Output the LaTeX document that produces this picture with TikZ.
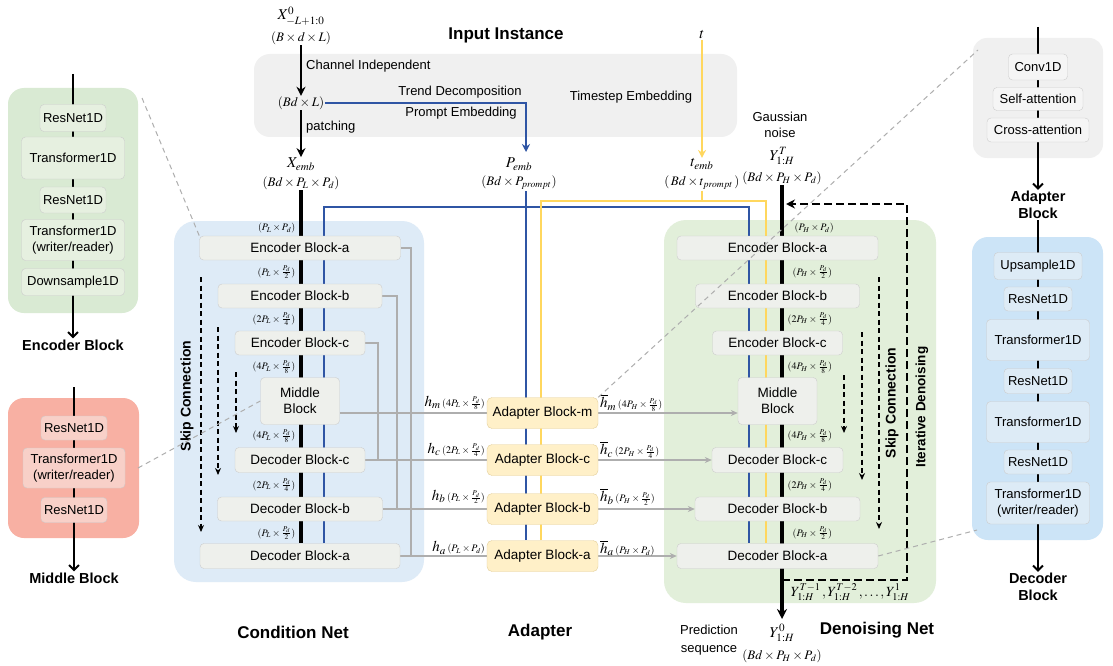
\documentclass[tikz,border=0pt]{standalone}
\usepackage{mathptmx}
\usepackage{fontspec}
\setmainfont{Liberation Sans}
\usetikzlibrary{arrows.meta}
\pgfdeclarelayer{back}
\pgfdeclarelayer{mid}
\pgfsetlayers{back,mid,main}
\definecolor{topgray}{HTML}{F0F0F0}
\definecolor{condbg}{HTML}{DEEBF7}
\definecolor{denbg}{HTML}{E2EFDA}
\definecolor{encbg}{HTML}{D9EAD3}
\definecolor{midbg}{HTML}{F8B0A3}
\definecolor{decbg}{HTML}{CCE4F7}
\definecolor{adpbg}{HTML}{F0F0F0}
\definecolor{blkfill}{HTML}{EEF0EC}
\definecolor{blkdraw}{HTML}{CCCCCC}
\definecolor{adfill}{HTML}{FFF0C8}
\definecolor{addraw}{HTML}{E3CF9A}
\definecolor{encin}{HTML}{E6F0E0}
\definecolor{midin}{HTML}{F8D0C8}
\definecolor{decin}{HTML}{DDEBF6}
\definecolor{adpin}{HTML}{F5F5F5}
\definecolor{myblue}{HTML}{2F55A4}
\definecolor{myyellow}{HTML}{FFD75E}
\definecolor{skipgray}{HTML}{AEAEAE}
\newcommand{\myfs}[2]{\fontsize{#1}{#2}\selectfont}
\begin{document}
\begin{tikzpicture}[x=1pt,y=-1pt,
 blk/.style={draw=blkdraw, fill=blkfill, rounded corners=4pt, inner sep=0pt, align=center, font=\myfs{13.5}{16}},
 ablk/.style={draw=addraw, fill=adfill, rounded corners=5pt, inner sep=0pt, minimum width=111pt, minimum height=31pt, font=\myfs{13.5}{16}},
 pbox/.style={draw=black!20, rounded corners=4pt, inner sep=0pt, align=center, font=\myfs{13}{16}},
 shp/.style={inner sep=0.5pt, font=\myfs{10}{11}},
 txt/.style={inner sep=1pt, font=\myfs{13}{16}, align=center},
 ttl/.style={inner sep=1pt, font=\bfseries\myfs{17}{20}, align=center},
 ptl/.style={inner sep=1pt, font=\bfseries\myfs{14.5}{17}, align=center},
 rtl/.style={inner sep=1pt, font=\bfseries\myfs{14}{16}, rotate=90},
 mathl/.style={inner sep=0.5pt, font=\myfs{13}{14}},
 mathb/.style={inner sep=0.5pt, font=\myfs{15}{16}},
 mainln/.style={line width=3.5pt, black},
 arrln/.style={line width=2.6pt, black, -{Stealth[length=9pt,width=9pt]}},
 blueln/.style={line width=2pt, myblue},
 yelln/.style={line width=2pt, myyellow},
 pline/.style={line width=2pt, black, -{Straight Barb[length=5pt,width=10pt,line width=2pt]}},
 skipln/.style={line width=1.3pt, skipgray},
 skiparr/.style={line width=1.3pt, skipgray, -{Stealth[length=7pt,width=6pt]}},
 sdash/.style={line width=1.6pt, black, dash pattern=on 5pt off 3.5pt, -{Stealth[length=7pt,width=6pt]}},
 itdash/.style={line width=2.2pt, black, dash pattern=on 8pt off 4pt, -{Stealth[length=9pt,width=9pt]}},
 gdash/.style={line width=1pt, skipgray, dash pattern=on 5pt off 4pt},
]
\useasboundingbox (0,0) rectangle (1113,666);
\begin{pgfonlayer}{back}
\fill[white] (0,0) rectangle (1113,666);
\fill[topgray, rounded corners=16pt] (254,54) rectangle (737,137);
\fill[condbg, rounded corners=22pt] (174,221) rectangle (424,582);
\fill[denbg, rounded corners=22pt] (664,220) rectangle (936,603);
\fill[encbg, rounded corners=16pt] (8,88) rectangle (138,313);
\fill[midbg, rounded corners=16pt] (8,398) rectangle (139,538);
\fill[adpbg, rounded corners=14pt] (973,38) rectangle (1103,158);
\fill[decbg, rounded corners=16pt] (972,237) rectangle (1103,540);
\end{pgfonlayer}

% ---------- top inputs ----------
\node[mathb] (x0) at (301,16) {$X^{0}_{-L+1:0}$};
\node[mathl] (x0s) at (301,38) {$(B\times d\times L)$};
\node[ttl] (inst) at (506,35) {Input Instance};
\node[mathl] (bdl) at (301,103) {$(Bd\times L)$};
\node[mathb] (xemb) at (301,164) {$X_{emb}$};
\node[mathl] (xembs) at (301,183) {$(Bd\times P_L\times P_d)$};
\node[txt, anchor=west] (chi) at (305,66) {Channel Independent};
\node[txt, anchor=west] (pat) at (305,127) {patching};
\node[txt] (trd) at (460,92) {Trend Decomposition};
\node[txt] (pre) at (461,113) {Prompt Embedding};
\node[mathb] (pemb) at (519,164) {$P_{emb}$};
\node[mathl] (pembs) at (519,183) {$(Bd\times P_{prompt})$};
\node[mathb] (tt) at (702,35) {$t$};
\node[txt] (tse) at (631,97) {Timestep Embedding};
\node[mathb] (temb) at (702,164) {$t_{emb}$};
\node[mathl] (tembs) at (702,183) {$(\,Bd\times t_{prompt}\,)$};
\node[txt] (gn) at (780,125) {Gaussian\\noise};
\node[mathb] (yt) at (782,156) {$Y^{T}_{1:H}$};
\node[mathl] (yts) at (782,178) {$(Bd\times P_H\times P_d)$};

% ---------- condition net ----------
\node[blk, minimum width=201pt, minimum height=24pt] (ea1) at (300,248) {Encoder Block-a};
\node[blk, minimum width=164pt, minimum height=24pt] (eb1) at (300,296) {Encoder Block-b};
\node[blk, minimum width=130pt, minimum height=24pt] (ec1) at (300,343) {Encoder Block-c};
\node[blk, minimum width=79pt, minimum height=47pt] (mb1) at (300,401) {Middle\\Block};
\node[blk, minimum width=130pt, minimum height=25pt] (dc1) at (300,460) {Decoder Block-c};
\node[blk, minimum width=165pt, minimum height=24pt] (db1) at (300,509) {Decoder Block-b};
\node[blk, minimum width=200pt, minimum height=25pt] (da1) at (300,556) {Decoder Block-a};

\node[shp, anchor=east] (s1) at (296,228) {$(P_L\times P_d)$};
\node[shp, anchor=east] (s2) at (296,272) {$(P_L\times\frac{P_d}{2})$};
\node[shp, anchor=east] (s3) at (296,319) {$(2P_L\times\frac{P_d}{4})$};
\node[shp, anchor=east] (s4) at (296,367) {$(4P_L\times\frac{P_d}{8})$};
\node[shp, anchor=east] (s5) at (296,436) {$(4P_L\times\frac{P_d}{8})$};
\node[shp, anchor=east] (s6) at (296,485) {$(2P_L\times\frac{P_d}{4})$};
\node[shp, anchor=east] (s7) at (296,533) {$(P_L\times\frac{P_d}{2})$};

\node[rtl] (sk1) at (187,396) {Skip Connection};

% ---------- adapter ----------
\node[ablk] (adm) at (542.5,413) {Adapter Block-m};
\node[ablk] (adc) at (542.5,460) {Adapter Block-c};
\node[ablk] (adb) at (542.5,509) {Adapter Block-b};
\node[ablk] (ada) at (542.5,556) {Adapter Block-a};

\node[anchor=east, inner sep=1pt] (hm) at (486,403) {{\myfs{15}{16}$h_m$}\,{\myfs{10}{11}$(4P_L\times\frac{P_d}{8})$}};
\node[anchor=east, inner sep=1pt] (hc) at (486,450) {{\myfs{15}{16}$h_c$}\,{\myfs{10}{11}$(2P_L\times\frac{P_d}{4})$}};
\node[anchor=east, inner sep=1pt] (hb) at (486,497) {{\myfs{15}{16}$h_b$}\,{\myfs{10}{11}$(P_L\times\frac{P_d}{2})$}};
\node[anchor=east, inner sep=1pt] (ha) at (486,548) {{\myfs{15}{16}$h_a$}\,{\myfs{10}{11}$(P_L\times P_d)$}};
\node[anchor=west, inner sep=1pt] (hm2) at (599,403) {{\myfs{15}{16}$\overline{h}_m$}\,{\myfs{10}{11}$(4P_H\times\frac{P_d}{8})$}};
\node[anchor=west, inner sep=1pt] (hc2) at (599,450) {{\myfs{15}{16}$\overline{h}_c$}\,{\myfs{10}{11}$(2P_H\times\frac{P_d}{4})$}};
\node[anchor=west, inner sep=1pt] (hb2) at (599,497) {{\myfs{15}{16}$\overline{h}_b$}\,{\myfs{10}{11}$(P_H\times\frac{P_d}{2})$}};
\node[anchor=west, inner sep=1pt] (ha2) at (599,548) {{\myfs{15}{16}$\overline{h}_a$}\,{\myfs{10}{11}$(P_H\times P_d)$}};

% ---------- denoising net ----------
\node[blk, minimum width=201pt, minimum height=24pt] (ea2) at (777.5,248) {Encoder Block-a};
\node[blk, minimum width=164pt, minimum height=24pt] (eb2) at (777.5,296) {Encoder Block-b};
\node[blk, minimum width=130pt, minimum height=24pt] (ec2) at (777.5,343) {Encoder Block-c};
\node[blk, minimum width=79pt, minimum height=47pt] (mb2) at (777.5,401) {Middle\\Block};
\node[blk, minimum width=131pt, minimum height=25pt] (dc2) at (777.5,460) {Decoder Block-c};
\node[blk, minimum width=165pt, minimum height=24pt] (db2) at (777.5,509) {Decoder Block-b};
\node[blk, minimum width=201pt, minimum height=25pt] (da2) at (777.5,556) {Decoder Block-a};

\node[shp, anchor=west] (d1) at (794,228) {$(P_H\times P_d)$};
\node[shp, anchor=west] (d2) at (792,272) {$(P_H\times\frac{P_d}{2})$};
\node[shp, anchor=west] (d3) at (787,319) {$(2P_H\times\frac{P_d}{4})$};
\node[shp, anchor=west] (d4) at (787,367) {$(4P_H\times\frac{P_d}{8})$};
\node[shp, anchor=west] (d5) at (787,436) {$(4P_H\times\frac{P_d}{8})$};
\node[shp, anchor=west] (d6) at (787,485) {$(2P_H\times\frac{P_d}{4})$};
\node[shp, anchor=west] (d7) at (792,533) {$(P_H\times\frac{P_d}{2})$};

\node[rtl] (sk2) at (892,403) {Skip Connection};
\node[rtl, font=\bfseries\myfs{13.5}{16}] (itl) at (922,407) {Iterative Denoising};
\node[inner sep=0.5pt, font=\myfs{14}{15}] (yseq) at (850,592) {$Y^{T-1}_{1:H}\,,Y^{T-2}_{1:H}\,,\ldots,Y^{1}_{1:H}$};
\node[mathb] (y0) at (782,633) {$Y^{0}_{1:H}$};
\node[mathl] (y0s) at (782,656) {$(Bd\times P_H\times P_d)$};
\node[txt, font=\myfs{13}{18}] (pred) at (709,640) {Prediction\\sequence};

% ---------- titles ----------
\node[ttl] (cn) at (293,632) {Condition Net};
\node[ttl] (adt) at (540,632) {Adapter};
\node[ttl] (dn) at (877,630) {Denoising Net};

% ---------- left panels ----------
\node[pbox, fill=encin, minimum width=66pt, minimum height=27pt] (er1) at (73,118) {ResNet1D};
\node[pbox, fill=encin, minimum width=103pt, minimum height=42pt] (et1) at (73,158) {Transformer1D};
\node[pbox, fill=encin, minimum width=66pt, minimum height=26pt] (er2) at (73,200) {ResNet1D};
\node[pbox, fill=encin, minimum width=103pt, minimum height=41pt] (et2) at (73,240) {Transformer1D\\(writer/reader)};
\node[pbox, fill=encin, minimum width=103pt, minimum height=27pt] (eds) at (73,282) {Downsample1D};
\node[ptl] (elab) at (73,345) {Encoder Block};

\node[pbox, fill=midin, minimum width=66pt, minimum height=24pt] (mr1) at (74,428) {ResNet1D};
\node[pbox, fill=midin, minimum width=102pt, minimum height=40pt] (mt1) at (74,468) {Transformer1D\\(writer/reader)};
\node[pbox, fill=midin, minimum width=66pt, minimum height=25pt] (mr2) at (74,510) {ResNet1D};
\node[ptl] (mlab) at (74,578) {Middle Block};

% ---------- right panels ----------
\node[pbox, fill=adpin, minimum width=59pt, minimum height=26pt] (ac1) at (1038,67) {Conv1D};
\node[pbox, fill=adpin, minimum width=90pt, minimum height=23pt] (ac2) at (1038,99) {Self-attention};
\node[pbox, fill=adpin, minimum width=102pt, minimum height=24pt] (ac3) at (1038,130) {Cross-attention};
\node[ptl] (alab) at (1038,205) {Adapter\\Block};

\node[pbox, fill=decin, minimum width=88pt, minimum height=27pt] (du) at (1038,266) {Upsample1D};
\node[pbox, fill=decin, minimum width=68pt, minimum height=24pt] (dr1) at (1038,299) {ResNet1D};
\node[pbox, fill=decin, minimum width=103pt, minimum height=41pt] (dt1) at (1038,340) {Transformer1D};
\node[pbox, fill=decin, minimum width=68pt, minimum height=25pt] (dr2) at (1038,381) {ResNet1D};
\node[pbox, fill=decin, minimum width=103pt, minimum height=41pt] (dt2) at (1038,422) {Transformer1D};
\node[pbox, fill=decin, minimum width=68pt, minimum height=24pt] (dr3) at (1038,462) {ResNet1D};
\node[pbox, fill=decin, minimum width=103pt, minimum height=42pt] (dt3) at (1038,503) {Transformer1D\\(writer/reader)};
\node[ptl] (dlab) at (1038,587) {Decoder\\Block};

% ---------- coordinates ----------
\coordinate (pt) at (526,152);
\coordinate (pv) at (526,191);
\coordinate (bl) at (324,207);
\coordinate (br) at (749,207);
\coordinate (yl) at (541,201);
\coordinate (yr) at (766,201);
\coordinate (g1) at (411,0);
\coordinate (g2) at (397,0);
\coordinate (g3) at (378,0);
\coordinate (yend) at (782,619);
\coordinate (etop) at (73,74);
\coordinate (mtop) at (74,387);
\coordinate (atop) at (1038,27);
\coordinate (it1) at (782,580);
\coordinate (it2) at (907,580);
\coordinate (it3) at (907,204);
\coordinate (it4) at (786,204);
\coordinate (k1a) at (201,277); \coordinate (k1b) at (201,532);
\coordinate (k2a) at (218,327); \coordinate (k2b) at (218,475);
\coordinate (k3a) at (236,372); \coordinate (k3b) at (236,433);
\coordinate (k4a) at (879,277); \coordinate (k4b) at (879,529);
\coordinate (k5a) at (862,332); \coordinate (k5b) at (862,480);
\coordinate (k6a) at (844,375); \coordinate (k6b) at (844,433);
\coordinate (gd1) at (142,98);
\coordinate (gd2) at (138,468);
\coordinate (gd3) at (978,50);
\coordinate (gd4) at (977,530);

\begin{pgfonlayer}{mid}
% top arrows
\draw[arrln] (x0s.south) -- (bdl.north);
\draw[arrln] (bdl.south) -- (xemb.north);
\draw[blueln, -{Stealth[length=8pt,width=8pt]}] (bdl.east) -| (pt);
\draw[yelln, -{Stealth[length=8pt,width=8pt]}] (tt.south) -- (temb.north);
% main flows
\draw[mainln] (xembs.south) -- (xembs.south |- da1.north);
\draw[mainln, -{Stealth[length=10pt,width=10pt]}] (yts.south) -- (yend);
\draw[blueln] (bl |- da1.north) -- (bl) -- (br) -- (br |- da2.north);
\draw[blueln] (pv) -- (pv |- ada.north);
\draw[yelln] (yl |- ada.north) -- (yl) -- (yr) -- (yr |- da2.north);
\draw[yelln] (tembs.south) -- (tembs.south |- yl);
% skip lines
\draw[skipln] (ea1.east) -| (g1 |- da1.east);
\draw[skipln] (eb1.east) -| (g2 |- db1.east);
\draw[skipln] (ec1.east) -| (g3 |- dc1.east);
\draw[skipln] (mb1.east |- adm.west) -- (adm.west);
\draw[skipln] (dc1.east) -- (dc1.east -| adc.west);
\draw[skipln] (db1.east) -- (db1.east -| adb.west);
\draw[skipln] (da1.east) -- (da1.east -| ada.west);
\draw[skiparr] (adm.east) -- (adm.east -| mb2.west);
\draw[skiparr] (adc.east) -- (adc.east -| dc2.west);
\draw[skiparr] (adb.east) -- (adb.east -| db2.west);
\draw[skiparr] (ada.east) -- (ada.east -| da2.west);
% panel lines
\draw[pline] (etop) -- (elab.north);
\draw[pline] (mtop) -- (mlab.north);
\draw[pline] (atop) -- (alab.north);
\draw[pline] (alab.south) -- (dlab.north);
\end{pgfonlayer}

% dashed arrows
\draw[sdash] (k1a) -- (k1b);
\draw[sdash] (k2a) -- (k2b);
\draw[sdash] (k3a) -- (k3b);
\draw[sdash] (k4a) -- (k4b);
\draw[sdash] (k5a) -- (k5b);
\draw[sdash] (k6a) -- (k6b);
\draw[itdash] (it1) -- (it2) -- (it3) -- (it4);
% gray dashed panel connectors
\draw[gdash] (gd1) -- (ea1.north west);
\draw[gdash] (gd2) -- (mb1.west);
\draw[gdash] (adm.north east) -- (gd3);
\draw[gdash] (da2.east) -- (gd4);
\end{tikzpicture}
\end{document}
